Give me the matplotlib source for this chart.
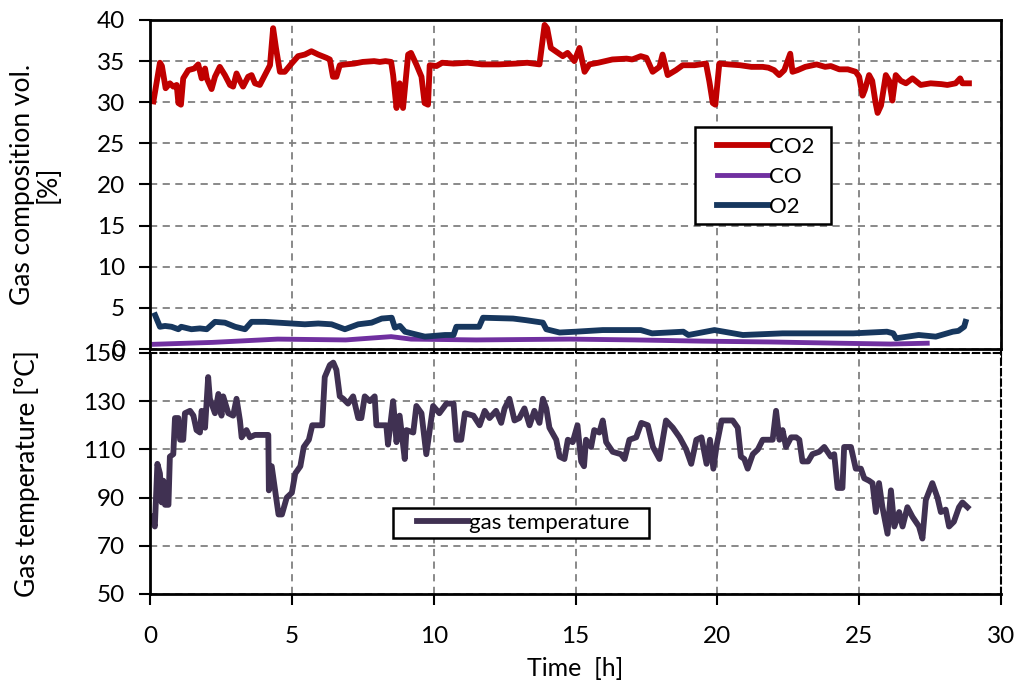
import matplotlib.pyplot as plt
from matplotlib.patches import Rectangle

plt.rcParams['font.family'] = ['Lato', 'DejaVu Sans']

# --- data ---
t_co2 = [0.12, 0.35, 0.42, 0.55, 0.70, 0.82, 0.94, 1.00, 1.09, 1.17, 1.35, 1.56, 1.70, 1.82, 1.94,
         2.00, 2.17, 2.29, 2.46, 2.64, 2.82, 2.93, 3.05, 3.17, 3.28, 3.46, 3.58, 3.70, 3.87, 4.05,
         4.23, 4.34, 4.44, 4.58, 4.75, 4.99, 5.22, 5.46, 5.69, 5.93, 6.22, 6.34, 6.45, 6.57, 6.69,
         6.9, 7.2, 7.5, 7.9, 8.1, 8.3, 8.5, 8.57, 8.69, 8.80, 8.92, 9.10, 9.20, 9.40, 9.57, 9.68,
         9.80, 9.86, 10.1, 10.3, 10.7, 11.2, 11.7, 12.3, 12.9, 13.3, 13.73, 13.91, 14.0, 14.13,
         14.3, 14.55, 14.72, 14.96, 15.14, 15.32, 15.49, 15.8, 16.3, 16.8, 17.0, 17.3, 17.5, 17.72,
         17.96, 18.07, 18.25, 18.54, 18.78, 19.2, 19.6, 19.72, 19.84, 19.93, 20.07, 20.4, 20.8,
         21.2, 21.6, 21.8, 22.0, 22.18, 22.36, 22.57, 22.65, 22.83, 23.1, 23.5, 23.8, 24.0, 24.3,
         24.6, 24.88, 25.0, 25.12, 25.2, 25.35, 25.46, 25.58, 25.65, 25.77, 25.94, 26.06, 26.17,
         26.29, 26.47, 26.65, 26.88, 27.17, 27.52, 27.9, 28.11, 28.4, 28.56, 28.64, 28.87]
co2 = [30.1, 34.8, 34.4, 31.7, 32.3, 31.9, 32.1, 29.9, 29.7, 32.9, 33.9, 34.1, 34.6, 32.9, 34.1,
       32.9, 31.6, 33.1, 34.3, 33.3, 32.1, 31.9, 33.5, 32.6, 31.9, 33.1, 33.3, 32.3, 32.1, 33.3,
       34.5, 39.0, 36.6, 33.7, 33.7, 34.7, 35.6, 35.8, 36.2, 35.8, 35.4, 35.2, 33.1, 33.1, 34.5,
       34.6, 34.7, 34.9, 35.0, 34.9, 35.0, 34.9, 33.3, 29.3, 32.3, 29.3, 35.8, 36.0, 34.5, 33.1, 29.9,
       29.7, 34.5, 34.4, 34.8, 34.7, 34.8, 34.6, 34.6, 34.7, 34.8, 34.6, 39.4, 39.0, 36.6,
       36.2, 35.6, 36.0, 35.0, 36.6, 33.7, 34.6, 34.8, 35.2, 35.3, 35.2, 35.6, 35.4, 33.7,
       34.3, 35.8, 33.3, 33.9, 34.5, 34.5, 34.7, 32.5, 29.9, 29.7, 34.7, 34.6, 34.5,
       34.3, 34.3, 34.2, 33.9, 33.3, 33.9, 35.9, 33.7, 33.9, 34.3, 34.6, 34.3, 34.4, 34.0,
       34.0, 33.7, 33.1, 30.8, 31.5, 33.3, 32.6, 29.9, 28.7, 29.6, 33.3, 32.6, 30.2,
       33.3, 32.6, 32.3, 32.9, 32.1, 32.3, 32.2, 32.1, 32.3, 32.9, 32.3, 32.3]

t_co = [0.14, 2.2, 4.5, 6.9, 8.5, 9.2, 11.5, 14.8, 17.1, 19.5, 21.9, 24.3, 26.1, 27.4]
co = [0.57, 0.8, 1.2, 1.1, 1.5, 1.2, 1.1, 1.2, 1.1, 0.95, 0.85, 0.7, 0.6, 0.7]

t_o2 = [0.18, 0.35, 0.53, 0.76, 1.0, 1.1, 1.46, 1.76, 2.0, 2.29, 2.64, 3.0, 3.35, 3.58, 4.05, 4.52,
        4.99, 5.46, 5.93, 6.4, 6.87, 7.34, 7.81, 8.17, 8.52, 8.63, 8.81, 8.99, 9.22, 9.69, 10.4,
        10.7, 10.8, 11.6, 11.74, 12.8, 13.26, 13.85, 13.97, 14.44, 15.0, 15.96, 17.3, 17.7, 18.8,
        18.98, 19.9, 20.9, 22.3, 23.5, 24.8, 25.98, 26.2, 26.3, 27.1, 27.7, 28.3, 28.5, 28.7, 28.75]
o2 = [4.1, 2.7, 2.8, 2.7, 2.4, 2.7, 2.4, 2.5, 2.4, 3.3, 3.2, 2.7, 2.4, 3.3, 3.3, 3.2,
      3.1, 3.0, 3.1, 3.0, 2.4, 3.0, 3.2, 3.7, 3.8, 2.6, 2.8, 2.1, 1.9, 1.5, 1.7,
      1.7, 2.7, 2.7, 3.8, 3.7, 3.5, 3.2, 2.4, 2.0, 2.1, 2.3, 2.3, 1.9, 2.1,
      1.7, 2.3, 1.7, 1.9, 1.9, 1.9, 2.1, 1.9, 1.3, 1.7, 1.5, 2.1, 2.2, 2.7, 3.3]

t_temp = [0.06, 0.17, 0.26, 0.35, 0.41, 0.47, 0.53, 0.65, 0.70, 0.82, 0.88, 1.0, 1.06, 1.17, 1.23,
          1.41, 1.53, 1.64, 1.76, 1.82, 1.94, 2.05, 2.11, 2.29, 2.41, 2.52, 2.58, 2.76, 2.93, 3.05,
          3.17, 3.23, 3.4, 3.52, 3.7, 4.17, 4.19, 4.29, 4.41, 4.53, 4.65, 4.82, 5.0, 5.12, 5.3,
          5.42, 5.6, 5.72, 6.07, 6.16, 6.34, 6.46, 6.57, 6.69, 6.81, 6.98, 7.16, 7.34, 7.45, 7.57,
          7.75, 7.92, 7.98, 8.33, 8.39, 8.57, 8.69, 8.8, 8.98, 9.04, 9.28, 9.39, 9.57, 9.74, 9.86,
          9.98, 10.2, 10.45, 10.7, 10.8, 10.97, 11.1, 11.4, 11.62, 11.8, 11.97, 12.2, 12.38, 12.5,
          12.67, 12.85, 13.02, 13.2, 13.38, 13.55, 13.73, 13.85, 13.97, 14.08, 14.32, 14.44, 14.61,
          14.73, 14.9, 15.07, 15.2, 15.3, 15.37, 15.55, 15.66, 15.84, 15.96, 16.08, 16.31, 16.6,
          16.73, 16.9, 17.14, 17.32, 17.55, 17.73, 17.96, 18.19, 18.43, 18.67, 18.9, 19.08, 19.26,
          19.44, 19.62, 19.74, 19.86, 19.98, 20.15, 20.54, 20.72, 20.83, 20.95, 21.07, 21.25,
          21.43, 21.6, 21.95, 22.07, 22.19, 22.3, 22.42, 22.6, 22.78, 22.89, 23.0, 23.2, 23.35,
          23.59, 23.77, 24.0, 24.12, 24.24, 24.41, 24.47, 24.71, 24.88, 25.06, 25.18, 25.35, 25.47,
          25.59, 25.7, 25.82, 26.0, 26.12, 26.24, 26.41, 26.53, 26.7, 26.88, 27.11, 27.23, 27.35,
          27.58, 27.76, 27.88, 28.05, 28.17, 28.34, 28.52, 28.64, 28.82]
temp = [82, 78, 104, 100, 88, 97, 87, 87, 107, 108, 123, 123, 114, 114, 125,
        126, 124, 118, 117, 126, 119, 140, 131, 125, 133, 124, 132, 125, 124, 131,
        122, 115, 118, 115, 116, 116, 93, 103, 93, 83, 83, 90, 92, 100, 103,
        111, 114, 120, 120, 140, 145, 146, 143, 132, 131, 129, 132, 123, 123, 132,
        130, 132, 120, 120, 112, 130, 113, 124, 106, 118, 117, 128, 125, 108, 118,
        128, 125, 129, 129, 114, 114, 125, 124, 120, 126, 123, 126, 121, 127,
        131, 122, 123, 127, 120, 126, 121, 131, 127, 119, 114, 107, 106,
        114, 113, 120, 105, 103, 114, 111, 118, 117, 122, 113, 109, 108,
        106, 114, 115, 121, 120, 111, 106, 122, 119, 115, 110, 104, 114,
        115, 104, 114, 102, 112, 122, 122, 119, 107, 106, 102, 108,
        110, 114, 114, 126, 114, 118, 111, 115, 115, 114, 105, 105, 108,
        109, 111, 107, 108, 94, 94, 111, 111, 102, 102, 98, 97, 96,
        84, 96, 86, 75, 93, 78, 84, 78, 86, 82, 78, 73, 89,
        96, 90, 84, 85, 78, 80, 86, 88, 86]

x_ticks = [0, 5, 10, 15, 20, 25, 30]
gas_ticks = [0, 5, 10, 15, 20, 25, 30, 35, 40]
temp_ticks = [50, 70, 90, 110, 130, 150]

fig = plt.figure(figsize=(10.15, 6.89), dpi=100)
ax1 = fig.add_axes([0.1478, 0.4935, 0.8384, 0.4775])
ax2 = fig.add_axes([0.1478, 0.1379, 0.8384, 0.3498])

grid_kw = dict(color='#808080', linestyle=(0, (4, 3)), linewidth=1.3)
box_kw = dict(facecolor='white', edgecolor='black', linewidth=1.8, zorder=4.5)
leg_kw = dict(loc='upper left', frameon=False, borderaxespad=0, borderpad=0,
              fontsize=16, handlelength=2.3, handletextpad=0.05)

ax1.plot(t_co2, co2, color='#C00000', lw=4.2, label='CO2', solid_joinstyle='round')
ax1.plot(t_co, co, color='#7030A0', lw=3.5, label='CO')
ax1.plot(t_o2, o2, color='#17375E', lw=4.2, label='O2', solid_joinstyle='round')
ax1.set_xlim(0, 30)
ax1.set_ylim(0, 40)
ax1.set_xticks(x_ticks)
ax1.set_yticks(gas_ticks)
ax1.tick_params(axis='x', labelbottom=False)
ax1.grid(True, **grid_kw)
ax1.set_ylabel('Gas composition vol.\n[%]', fontsize=19, linespacing=1.05)
ax1.yaxis.set_label_coords(-0.105, 0.5)
for s in ax1.spines.values():
    s.set_linewidth(2)
    s.set_color('black')
# legend frame drawn as a box, entries placed inside it
ax1.add_patch(Rectangle((0.640, 0.380), 0.160, 0.295, transform=ax1.transAxes, **box_kw))
ax1.legend(bbox_to_anchor=(0.666, 0.645), labelspacing=0.45, **leg_kw)

ax2.plot(t_temp, temp, color='#403152', lw=4.2, label='gas temperature', solid_joinstyle='round')
ax2.set_xlim(0, 30)
ax2.set_ylim(50, 150)
ax2.set_xticks(x_ticks)
ax2.set_yticks(temp_ticks)
ax2.grid(True, **grid_kw)
ax2.set_ylabel('Gas temperature [°C]', fontsize=19)
ax2.yaxis.set_label_coords(-0.129, 0.5)
ax2.set_xlabel('Time  [h]', fontsize=18, labelpad=7)
for side in ['left', 'bottom']:
    ax2.spines[side].set_linewidth(2)
for side in ['top', 'right']:
    ax2.spines[side].set_linestyle((0, (3, 2)))
    ax2.spines[side].set_linewidth(1.5)
ax2.add_patch(Rectangle((0.2855, 0.232), 0.301, 0.125, transform=ax2.transAxes, **box_kw))
ax2.legend(bbox_to_anchor=(0.3137, 0.338), **leg_kw)

for ax in (ax1, ax2):
    ax.tick_params(direction='out', length=8, width=1.5, labelsize=17.5)
    ax.tick_params(axis='y', pad=10)
    ax.tick_params(axis='x', pad=15)
    ax.set_axisbelow(True)

fig.savefig('out.png', dpi=100)
